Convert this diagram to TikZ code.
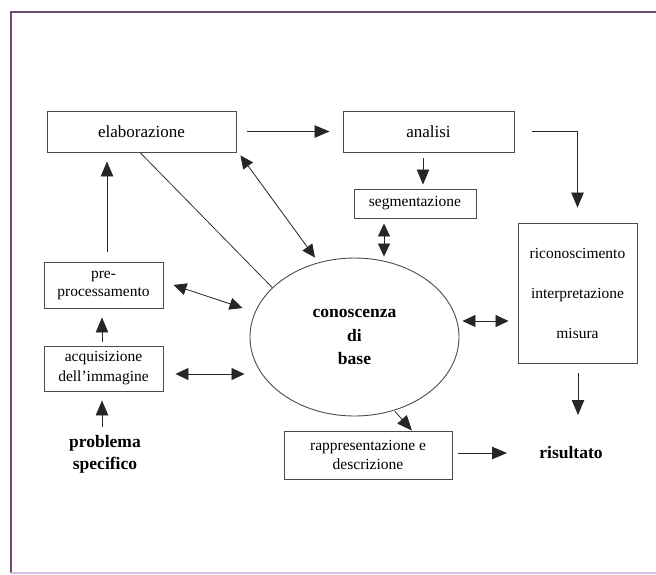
\documentclass[tikz,border=0pt]{standalone}
\usepackage{fontspec}
\setmainfont{Liberation Serif}
\usetikzlibrary{arrows.meta,shapes.geometric}

\begin{document}
\begin{tikzpicture}[x=1pt,y=-1pt,
    box/.style={draw=black!70,line width=0.9pt,inner sep=0pt,align=center,font=\fontsize{15.5}{20}\selectfont},
    bold/.style={inner sep=0pt,align=center,font=\fontsize{17.5}{22}\selectfont\bfseries},
    arr/.style={-{Triangle[length=15pt,width=12.5pt]},line width=0.8pt,black!85},
    dbl/.style={{Triangle[length=13pt,width=12pt]}-{Triangle[length=13pt,width=12pt]},line width=0.8pt,black!85}]
  \useasboundingbox (0,0) rectangle (656,574);
  % frame
  \draw[line width=1.6pt,violet!40!black!70] (656,12) -- (11,12) -- (11,573);
  \draw[line width=1.2pt,violet!25] (11,573) -- (656,573);
  % boxes
  \node[box,minimum width=189,minimum height=41,font=\fontsize{17}{20}\selectfont] (elab) at (141.5,131.5) {elaborazione};
  \node[box,minimum width=171,minimum height=41,font=\fontsize{17}{20}\selectfont] (analisi) at (428.5,131.5) {analisi};
  \node[box,minimum width=122,minimum height=29] (segm) at (415,203.5) {segmentazione};
  \node[box,minimum width=119,minimum height=46,font=\fontsize{15.5}{18}\selectfont] (pre) at (103.5,285) {pre-\\processamento};
  \node[box,minimum width=119,minimum height=45] (acq) at (103.5,368.5) {acquisizione\\dell'immagine};
  \node[box,minimum width=119,minimum height=140,font=\fontsize{15.5}{40}\selectfont] (ricon) at (577.5,293) {riconoscimento\\interpretazione\\misura};
  \node[box,minimum width=168,minimum height=48,font=\fontsize{15.5}{19}\selectfont] (rapp) at (368,455) {rappresentazione e\\descrizione};
  % knowledge base
  \node[ellipse,draw=black!70,line width=0.9pt,minimum width=209,minimum height=158,inner sep=0pt,
        align=center,font=\fontsize{17.5}{23.5}\selectfont\bfseries] (base) at (354.5,337) {conoscenza\\di\\base};
  \node[bold] (prob) at (105,454) {problema\\specifico};
  \node[bold] (ris) at (571,453) {risultato};
  % connectors
  \draw[arr,shorten <=11pt,shorten >=13pt] (elab) -- (analisi);
  \draw[arr,shorten <=10pt,shorten >=9pt] ([xshift=3.5]pre.north) -- ([xshift=3.5]pre.north |- elab.south);
  \draw[arr,shorten <=4pt,shorten >=9pt] ([xshift=-1.5]acq.north) -- ([xshift=-1.5]pre.south);
  \draw[arr,shorten >=9pt] ([shift={(-3,-27)}]prob.center) -- ([xshift=-1.5]acq.south);
  \draw[arr,shorten <=6pt,shorten >=4pt] ([xshift=-5.5]analisi.south) -- ([xshift=8]segm.north);
  \draw[dbl] ([shift={(-31,5)}]segm.south) -- ([shift={(29.5,-1)}]base.north);
  \draw[arr,shorten >=15pt] ([xshift=18]analisi.east) -| (ricon.north);
  \draw[line width=0.8pt,black!80] ([xshift=-1.5]elab.south) -- (base.149);
  \draw[dbl] ([shift={(4,3)}]elab.south east) -- ([shift={(-39.5,0)}]base.north);
  \draw[dbl] ([xshift=10]pre.east) -- ([shift={(-7,-29)}]base.west);
  \draw[dbl] ([shift={(12,5.5)}]acq.east) -- ([shift={(-5,37)}]base.west);
  \draw[dbl] ([shift={(3,-16)}]base.east) -- ([shift={(-9,28)}]ricon.west);
  \draw[arr] ([shift={(40.5,-5)}]base.south) -- ([xshift=44]rapp.north);
  \draw[arr] ([shift={(6,-2)}]rapp.east) -- ([shift={(-64,0)}]ris.center);
  \draw[arr] ([shift={(0.5,10)}]ricon.south) -- ([shift={(7,-38)}]ris.center);
\end{tikzpicture}
\end{document}
